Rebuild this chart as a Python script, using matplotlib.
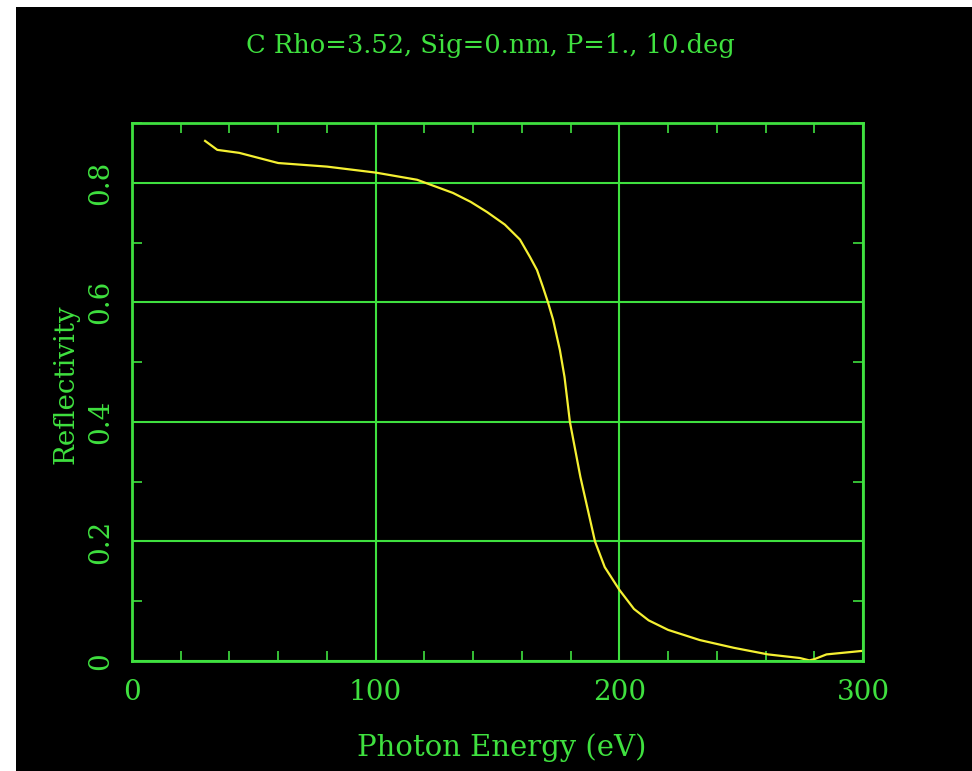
import numpy as np
import matplotlib
matplotlib.use("Agg")
import matplotlib.pyplot as plt
from matplotlib.patches import Rectangle
from matplotlib.ticker import MultipleLocator

# reflectivity curve
energy = [30, 35, 44, 60, 80, 100, 117, 131.7, 139, 145.7, 153, 159.2, 163.3,
          166.2, 168.6, 170.7, 172.8, 175.6, 177.5, 179.7, 184, 190, 194, 200,
          206, 212, 220, 233, 247, 261, 274, 278, 280, 285, 300]
refl = [0.870, 0.855, 0.850, 0.833, 0.827, 0.817, 0.805, 0.783, 0.768, 0.751,
        0.730, 0.705, 0.676, 0.654, 0.626, 0.600, 0.571, 0.520, 0.475, 0.400,
        0.308, 0.200, 0.157, 0.119, 0.087, 0.068, 0.052, 0.035, 0.022, 0.011,
        0.005, 0.001, 0.003, 0.011, 0.017]

x_ticks = [0, 100, 200, 300]
y_ticks = [0, 0.2, 0.4, 0.6, 0.8]
y_tick_labels = ["0", "0.2", "0.4", "0.6", "0.8"]

green = "#3fe03f"
font = "DejaVu Serif"

fig = plt.figure(figsize=(9.72, 7.71), dpi=100)
fig.patch.set_facecolor("white")
fig.patches.append(Rectangle((16 / 972, 0), 1, 1 - 7 / 771, transform=fig.transFigure,
                             facecolor="black", edgecolor="none", zorder=-10))

ax = fig.add_axes([0.1358, 0.1427, 0.8879 - 0.1358, 0.8405 - 0.1427])
ax.set_facecolor("black")
ax.plot(energy, refl, color="#f5f032", lw=1.6)

ax.set_xlim(0, 300)
ax.set_ylim(0, 0.9)
ax.set_xticks(x_ticks)
ax.set_yticks(y_ticks)
ax.set_yticklabels(y_tick_labels)
ax.xaxis.set_minor_locator(MultipleLocator(20))
ax.yaxis.set_minor_locator(MultipleLocator(0.1))
ax.grid(True, which="major", color=green, lw=1.5)
ax.tick_params(which="major", length=0, pad=13, labelsize=20, labelcolor=green)
ax.tick_params(which="minor", direction="in", length=7, width=1.2, color=green,
               top=True, right=True)
for lab in ax.get_xticklabels() + ax.get_yticklabels():
    lab.set_fontfamily(font)
for lab in ax.get_yticklabels():
    lab.set_rotation(90)
    lab.set_va("center")
for sp in ax.spines.values():
    sp.set_color(green)
    sp.set_linewidth(2)

fig.text(0.505, 1 - 45 / 771, "C Rho=3.52, Sig=0.nm, P=1., 10.deg", color=green,
         fontsize=18.5, family=font, ha="center", va="center")
fig.text(0.516, 1 - 748 / 771, "Photon Energy (eV)", color=green,
         fontsize=21, family=font, ha="center", va="center")
fig.text(66 / 972, 1 - 384 / 771, "Reflectivity", color=green, rotation=90,
         fontsize=20, family=font, ha="center", va="center")

plt.savefig("out.png", dpi=100, facecolor=fig.get_facecolor())
